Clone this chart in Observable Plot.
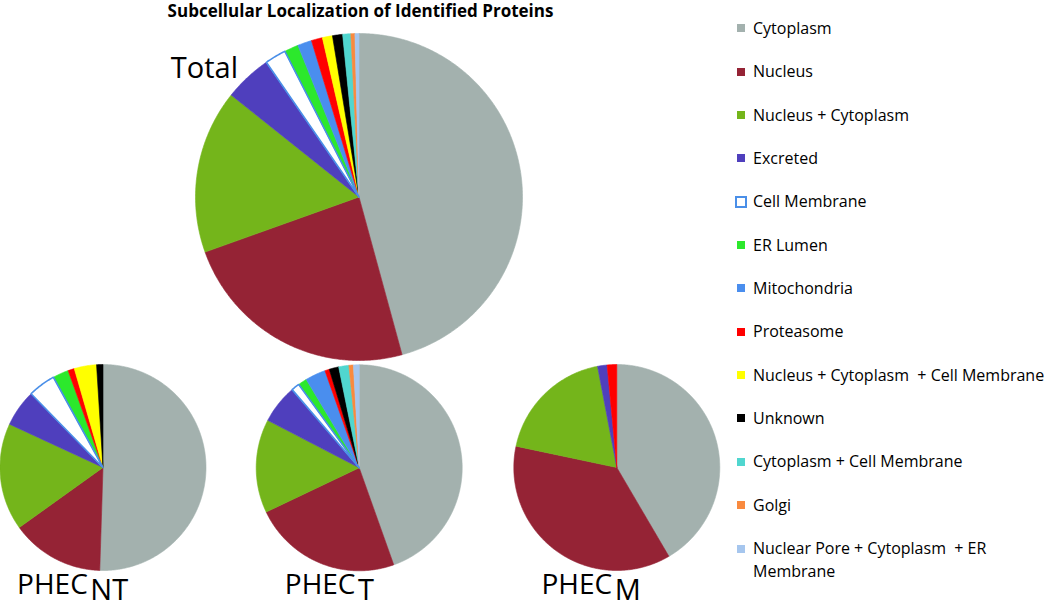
<!DOCTYPE html>
<html><head><meta charset="utf-8">
<script src="https://cdn.jsdelivr.net/npm/d3@7"></script>
<script src="https://cdn.jsdelivr.net/npm/@observablehq/plot@0.6"></script>
<style>
body{margin:0;background:#fff;}
#wrap{position:relative;width:1050px;height:608px;overflow:hidden;font-family:"Open Sans",sans-serif;}
#title{position:absolute;left:0;top:1px;width:721px;text-align:center;font-weight:bold;font-size:17px;line-height:20px;color:#000;white-space:nowrap;}
#chart{position:absolute;left:0;top:24px;}
.row{position:absolute;left:737px;display:flex;align-items:flex-start;font-size:16px;line-height:23px;color:#000;white-space:pre;}
.sw{width:8px;height:8px;margin-top:7.5px;margin-right:8px;box-sizing:border-box;flex:none;}
.sw.hollow{width:12px;height:12px;margin-top:5.5px;margin-left:-2px;margin-right:6px;background:#fff;border:2px solid #4a8fe8;}
</style></head><body>
<div id="wrap"><div id="title"></div><div id="chart"></div><div id="legend"></div></div>
<script>
// ---- data ----
const title = "Subcellular Localization of Identified Proteins";
const categories = ["Cytoplasm","Nucleus","Nucleus + Cytoplasm","Excreted","Cell Membrane","ER Lumen","Mitochondria","Proteasome","Nucleus + Cytoplasm  + Cell Membrane","Unknown","Cytoplasm + Cell Membrane","Golgi","Nuclear Pore + Cytoplasm  + ER Membrane"];
const legendLabels = ["Cytoplasm","Nucleus","Nucleus + Cytoplasm","Excreted","Cell Membrane","ER Lumen","Mitochondria","Proteasome","Nucleus + Cytoplasm  + Cell Membrane","Unknown","Cytoplasm + Cell Membrane","Golgi","Nuclear Pore + Cytoplasm  + ER\nMembrane"];
const colors = ["#a3b1ae","#952335","#74b51b","#4f3fbd","#ffffff","#2ce82c","#4a8eee","#ff0000","#ffff00","#000000","#50d6cf","#f98a3f","#a6c6ee"];
const totalValues = [45.8, 23.8, 16.2, 4.7, 2.1, 1.4, 1.4, 1.1, 1.0, 1.0, 0.8, 0.4, 0.4];
const ntValues    = [50.5, 14.6, 16.8, 5.8, 4.3, 2.5, 0,   1.0, 3.5, 1.0, 0,   0,   0];
const tValues     = [44.6, 23.4, 14.7, 6.1, 1.3, 1.4, 3.2, 0.7, 0,   1.5, 1.6, 0.7, 0.9];
const mValues     = [41.6, 36.8, 18.7, 1.5, 0,   0,   0,   1.5, 0,   0,   0,   0,   0];
const pieNames = ["Total","PHEC","PHEC","PHEC"];
const pieSubs  = ["","NT","T","M"];

// ---- layout (not data) ----
const W = 721, H = 584;
const layout = [
  {cx:358.5, cy:172.5, r:163.5, lx:237.5, ly:53},
  {cx:102.5, cy:443,   r:103,   lx:87.3,  ly:569},
  {cx:358.7, cy:443.3, r:103,   lx:355,   ly:569},
  {cx:616.3, cy:443,   r:103,   lx:611.7, ly:569}
];
const series = [totalValues, ntValues, tValues, mValues];

const pieGen = d3.pie().sort(null).value(d => d);
const pts = [];
series.forEach((vals, pi) => {
  const L = layout[pi];
  pieGen(vals).forEach((a, i) => {
    if (!(a.value > 0)) return;
    const key = pi + "|" + i, cat = categories[i];
    pts.push({key, cat, x: L.cx, y: L.cy});
    const n = Math.max(2, Math.ceil((a.endAngle - a.startAngle) / (Math.PI / 360)));
    for (let k = 0; k <= n; k++) {
      const t = a.startAngle + (a.endAngle - a.startAngle) * k / n;
      pts.push({key, cat, x: L.cx + L.r * Math.sin(t), y: L.cy - L.r * Math.cos(t)});
    }
    pts.push({key, cat, x: L.cx, y: L.cy});
  });
});
const labels = pieNames.map((name, i) => ({name, sub: pieSubs[i], ...layout[i]}));

const chart = Plot.plot({
  width: W, height: H, margin: 0,
  style: {fontFamily: "Open Sans", background: "transparent", overflow: "visible"},
  x: {domain: [0, W], range: [0, W], axis: null},
  y: {domain: [0, H], range: [0, H], axis: null},
  color: {type: "ordinal", domain: categories, range: colors},
  marks: [
    Plot.line(pts, {x: "x", y: "y", z: "key", fill: "cat", stroke: "cat", strokeWidth: 0.6, curve: "linear"}),
    Plot.line(pts.filter(d => d.cat === "Cell Membrane"), {x: "x", y: "y", z: "key", fill: "none", stroke: "#4a8fe8", strokeWidth: 1.6, strokeLinejoin: "miter"}),
    Plot.text(labels.filter(d => d.sub === ""), {x: "lx", y: "ly", text: "name", textAnchor: "end", lineAnchor: "bottom", fontSize: 29, fill: "#000"}),
    Plot.text(labels.filter(d => d.sub !== ""), {x: "lx", y: "ly", text: "name", textAnchor: "end", lineAnchor: "bottom", fontSize: 28, fill: "#000"}),
    Plot.text(labels.filter(d => d.sub !== ""), {x: "lx", y: "ly", dx: 2.5, dy: 6, text: "sub", textAnchor: "start", lineAnchor: "bottom", fontSize: 29, fill: "#000"})
  ]
});
document.getElementById("chart").appendChild(chart);
document.getElementById("title").textContent = title;

const legend = document.getElementById("legend");
legendLabels.forEach((lab, i) => {
  const row = document.createElement("div");
  row.className = "row";
  row.style.top = (28.3 + 43.35 * i - 11.5) + "px";
  const sw = document.createElement("div");
  sw.className = "sw" + (categories[i] === "Cell Membrane" ? " hollow" : "");
  if (categories[i] !== "Cell Membrane") sw.style.background = colors[i];
  const tx = document.createElement("span");
  tx.textContent = lab;
  row.appendChild(sw); row.appendChild(tx);
  legend.appendChild(row);
});
</script>
</body></html>
